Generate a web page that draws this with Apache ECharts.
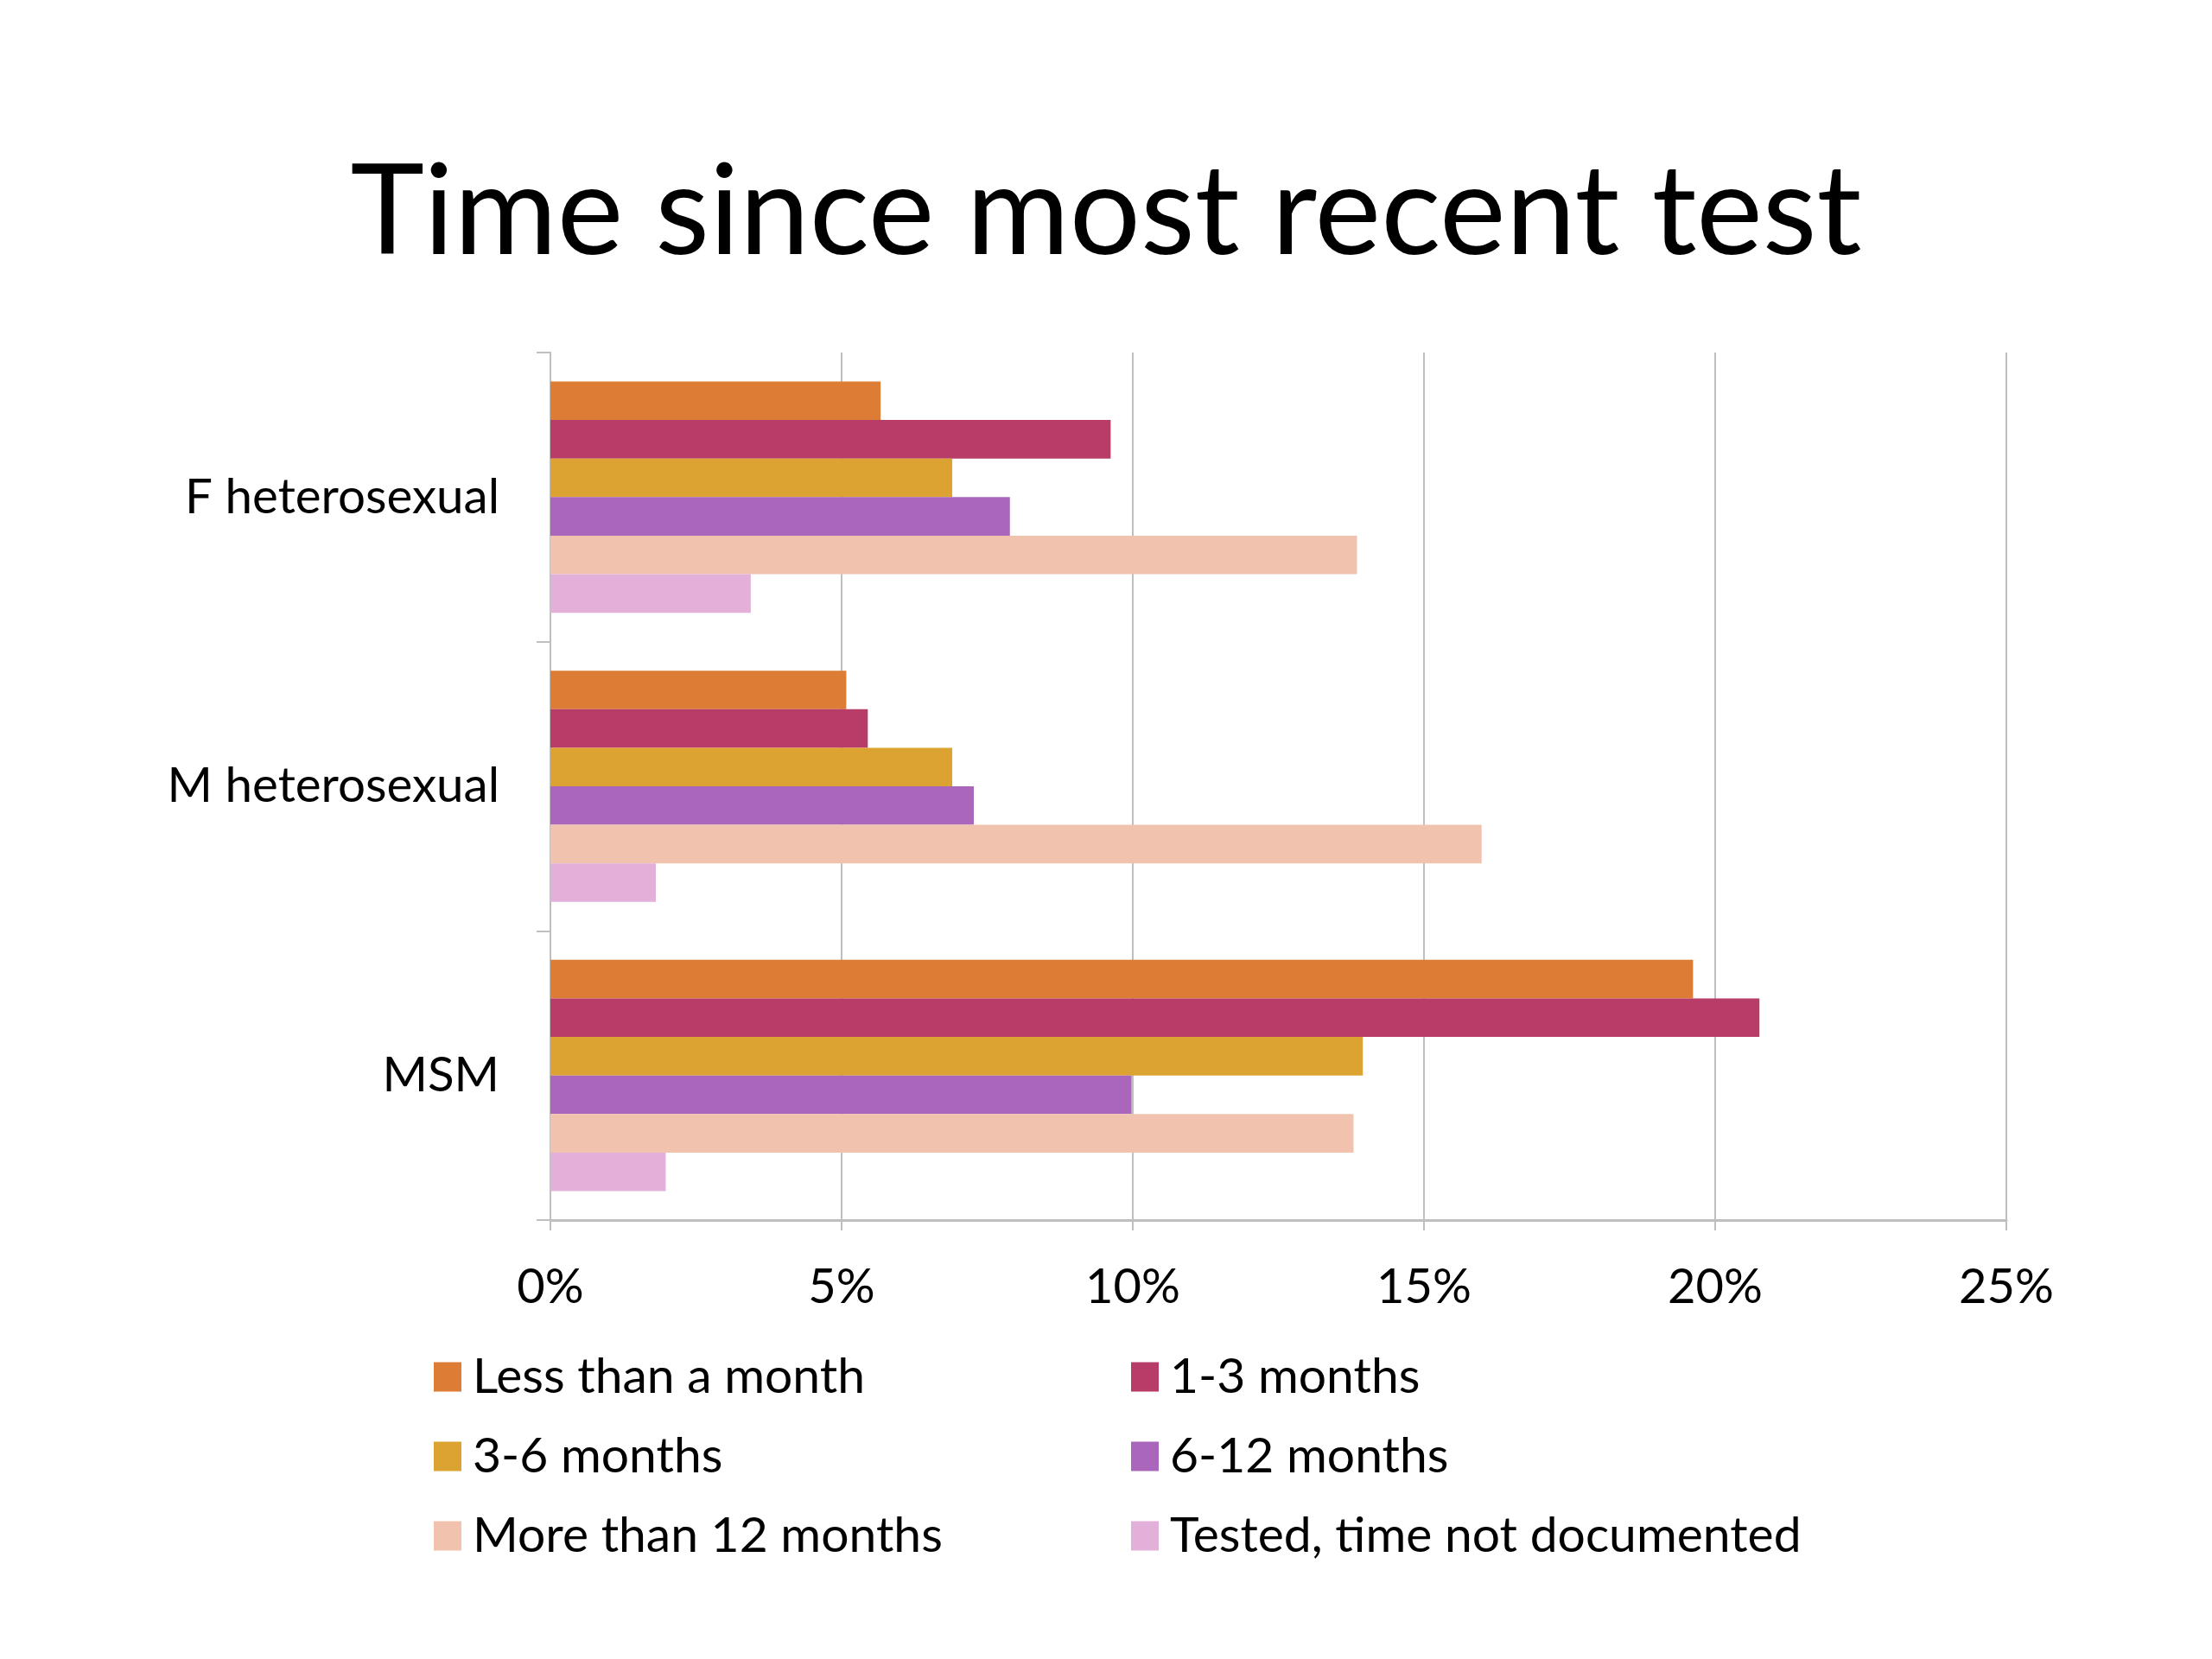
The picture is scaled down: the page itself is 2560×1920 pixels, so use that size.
<!DOCTYPE html>
<html>
<head>
<meta charset="utf-8">
<script src="https://cdn.jsdelivr.net/npm/echarts@6/dist/echarts.min.js"></script>
<style>html,body{margin:0;padding:0;background:#fff;}#c{width:2560px;height:1920px;}</style>
</head>
<body>
<div id="c"></div>
<script>
const categories = ['F heterosexual', 'M heterosexual', 'MSM'];
const seriesNames = ['Less than a month', '1-3 months', '3-6 months', '6-12 months', 'More than 12 months', 'Tested, time not documented'];
const lessThanMonth = [5.67, 5.08, 19.62];
const oneToThree = [9.62, 5.45, 20.76];
const threeToSix = [6.90, 6.90, 13.95];
const sixToTwelve = [7.89, 7.27, 9.98];
const moreThanTwelve = [13.85, 15.99, 13.79];
const notDocumented = [3.44, 1.81, 1.98];
const xTicks = [0, 5, 10, 15, 20, 25];

const colors = ['#DC7C35', '#B83C68', '#DCA232', '#AA66BB', '#F1C3AF', '#E3B0D9'];
const values = [lessThanMonth, oneToThree, threeToSix, sixToTwelve, moreThanTwelve, notDocumented];
const FONT = 'Lato';

const legendCommon = {
  orient: 'vertical', top: 1560, itemGap: 35,
  itemWidth: 32, itemHeight: 34, icon: 'rect',
  textStyle: { fontFamily: FONT, fontSize: 57, color: '#000', padding: [0, 0, 0, 8] }
};

const chart = echarts.init(document.getElementById('c'));
chart.setOption({
  animation: false,
  backgroundColor: '#ffffff',
  title: {
    text: 'Time since most recent test',
    left: 'center',
    top: 170,
    textStyle: { fontFamily: FONT, fontSize: 145, fontWeight: 'normal', color: '#000' }
  },
  legend: [
    Object.assign({}, legendCommon, { left: 497, data: [seriesNames[0], seriesNames[2], seriesNames[4]] }),
    Object.assign({}, legendCommon, { left: 1304, data: [seriesNames[1], seriesNames[3], seriesNames[5]] })
  ],
  grid: { left: 637, right: 238, top: 408, bottom: 508, containLabel: false },
  xAxis: {
    type: 'value', min: 0, max: 25, interval: 5,
    axisLine: { show: true, lineStyle: { color: '#BFBFBF', width: 3 } },
    axisTick: { show: true, length: 12, lineStyle: { color: '#BFBFBF', width: 2 } },
    splitLine: { show: true, lineStyle: { color: '#BFBFBF', width: 2 } },
    axisLabel: {
      margin: 50, fontFamily: FONT, fontSize: 56, color: '#000',
      formatter: function (v) { return xTicks.indexOf(v) >= 0 ? v + '%' : ''; }
    }
  },
  yAxis: {
    type: 'category', data: categories, inverse: true,
    axisLine: { show: true, lineStyle: { color: '#BFBFBF', width: 2 } },
    axisTick: { show: true, length: 16, lineStyle: { color: '#BFBFBF', width: 2 } },
    axisLabel: { margin: 59, fontFamily: FONT, fontSize: 56.5, color: '#000' }
  },
  series: seriesNames.map((n, i) => ({
    name: n, type: 'bar', data: values[i],
    barGap: '0%', barCategoryGap: '20%',
    itemStyle: { color: colors[i] }
  }))
});
</script>
</body>
</html>
